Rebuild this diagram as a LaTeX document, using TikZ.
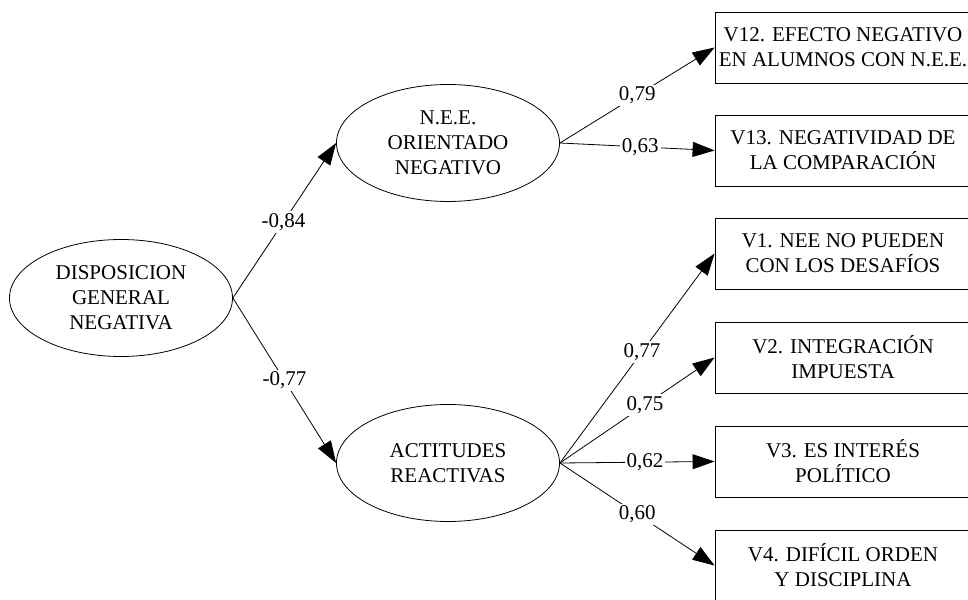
\documentclass[tikz,border=0pt]{standalone}
\usepackage{fontspec}
\setmainfont{Liberation Serif}
\usepackage{tikz}
\usetikzlibrary{arrows.meta,positioning,shapes.geometric}
\tikzset{%
	latent/.style   = {draw, ellipse, minimum width=223pt, minimum height=117pt, inner sep=0pt, align=center, font=\fontsize{21}{25}\selectfont},
	observed/.style = {draw, rectangle, minimum width=256pt, minimum height=71pt, inner sep=0pt, align=center, font=\fontsize{21}{25}\selectfont},
	weight/.style   = {fill=white, inner sep=2pt, font=\fontsize{21}{25}\selectfont},
	arrow/.style    = {line width=0.8pt, -{Triangle[length=22pt,width=15pt]}},
}
\begin{document}
\begin{tikzpicture}[x=1pt,y=1pt,line width=0.8pt]
	\useasboundingbox[clip] (0,0) rectangle (968,599);
	% latent factors
	\node[latent] (dis) at (121,301) {DISPOSICION\\GENERAL\\NEGATIVA};
	\node[latent] (nee) at (448,456) {N.E.E.\\ORIENTADO\\NEGATIVO};
	\node[latent] (act) at (448,136) {ACTITUDES\\REACTIVAS};
	% observed variables
	\node[observed] (v12) at (843,551.5) {V12. EFECTO NEGATIVO\\EN ALUMNOS CON N.E.E.};
	\node[observed] (v13) at (843,448.5) {V13. NEGATIVIDAD DE\\LA COMPARACIÓN};
	\node[observed] (v1)  at (843,345.5) {V1. NEE NO PUEDEN\\CON LOS DESAFÍOS};
	\node[observed] (v2)  at (843,241.5) {V2. INTEGRACIÓN\\IMPUESTA};
	\node[observed] (v3)  at (843,137.5) {V3. ES INTERÉS\\POLÍTICO};
	\node[observed] (v4)  at (843,33.5)  {V4. DIFÍCIL ORDEN\\Y DISCIPLINA};
	% loadings
	\draw[arrow] (dis.east) -- node[weight,pos=0.49] {-0,84} (nee.west);
	\draw[arrow] (dis.east) -- node[weight,pos=0.5] {-0,77} (act.west);
	\draw[arrow] (nee.east) -- node[weight,pos=0.5] {0,79} (v12.west);
	\draw[arrow] (nee.east) -- node[weight,pos=0.52] {0,63} (v13.west);
	\draw[arrow] (act.east) -- node[weight,pos=0.53] {0,77} (v1.west);
	\draw[arrow] (act.east) -- node[weight,pos=0.55] {0,75} (v2.west);
	\draw[arrow] (act.east) -- node[weight,pos=0.55] {0,62} (v3.west);
	\draw[arrow] (act.east) -- node[weight,pos=0.5] {0,60} (v4.west);
\end{tikzpicture}
\end{document}
